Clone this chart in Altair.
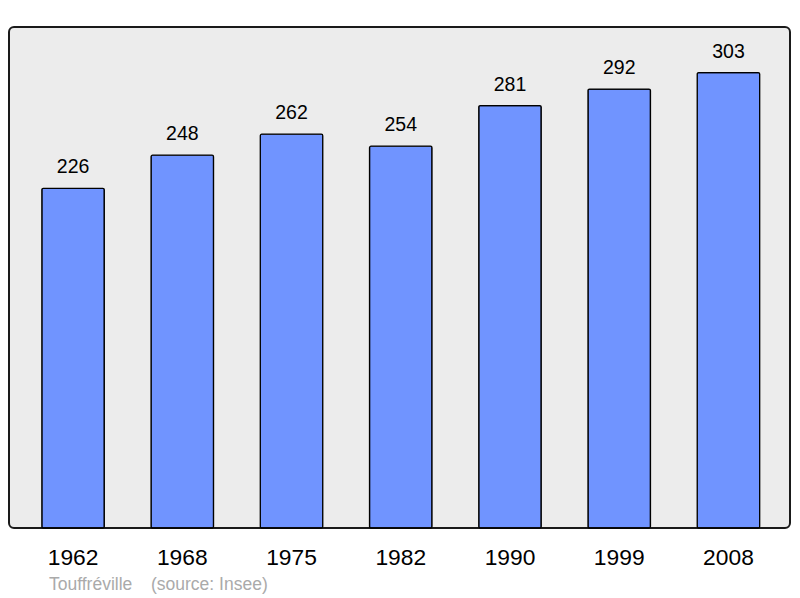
import altair as alt
import pandas as pd

years = ["1962", "1968", "1975", "1982", "1990", "1999", "2008"]
population = [226, 248, 262, 254, 281, 292, 303]
commune = "Touffréville"
source = "(source: Insee)"

df = pd.DataFrame({"year": years, "pop": population})

FONT = "Liberation Sans"

x = alt.X("year:N", sort=years,
          scale=alt.Scale(paddingInner=0.428, paddingOuter=0.289, align=0.52),
          axis=alt.Axis(title=None, labelAngle=0, domain=False, ticks=False, tickSize=0,
                        labelFontSize=22.8, labelFont=FONT, labelColor="#000000",
                        labelBaseline="alphabetic", labelPadding=36.5))
y = alt.Y("pop:Q", scale=alt.Scale(domain=[0, 333.3], nice=False, zero=True), axis=None)

bars = alt.Chart(df).mark_bar(fill="#7094FF", stroke="#000000", strokeWidth=1.3,
                              cornerRadius=1.5).encode(x=x, y=y)

labels = alt.Chart(df).mark_text(font=FONT, fontSize=19.5, color="#000000",
                                 baseline="alphabetic", dy=-15).encode(
    x=x, y=y, text="pop:Q")

src1 = alt.Chart(pd.DataFrame({"t": [commune]})).mark_text(
    font=FONT, fontSize=17.5, color="#AAAAAA", align="left", baseline="alphabetic"
).encode(x=alt.value(40), y=alt.value(562.5), text="t:N")
src2 = alt.Chart(pd.DataFrame({"t": [source]})).mark_text(
    font=FONT, fontSize=17.5, color="#AAAAAA", align="left", baseline="alphabetic"
).encode(x=alt.value(142), y=alt.value(562.5), text="t:N")

chart = alt.layer(bars, labels, src1, src2).properties(
    width=781, height=501,
    autosize=alt.AutoSizeParams(type="none"),
    padding={"left": 1, "top": 19, "right": 2, "bottom": 70},
    background="#FFFFFF",
).configure_view(
    fill="#ECECEC", stroke="#1A1A1A", strokeWidth=2, cornerRadius=5
)

chart.save("out.html", embed_options={"renderer": "svg", "actions": False})
